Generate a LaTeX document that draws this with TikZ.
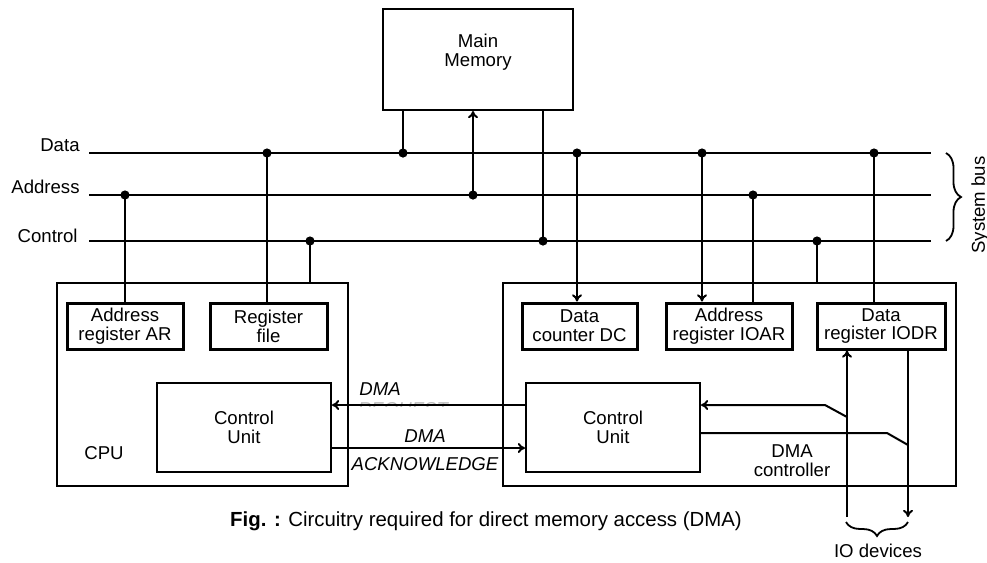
\documentclass[tikz,border=0pt]{standalone}
\usepackage{fontspec}
\setmainfont{Liberation Sans}
\usetikzlibrary{arrows.meta,decorations.pathreplacing}

\begin{document}
\begin{tikzpicture}[x=0.5pt,y=-0.5pt,
  font=\fontsize{9.3}{9.4}\selectfont,
  bus/.style={line width=1pt},
  wire/.style={line width=1pt},
  reg/.style={draw,line width=1.5pt,align=center,inner sep=0pt,minimum height=23pt},
  unit/.style={draw,line width=1pt,inner sep=0pt},
  outer/.style={draw,line width=1pt,inner sep=0pt,minimum height=101.5pt},
  jn/.style={circle,fill,inner sep=0pt,minimum size=4.6pt},
  tip/.style={-{To[length=3.6pt,width=5pt]}},
  lbl/.style={inner sep=0pt}
]
\useasboundingbox (0,0) rectangle (987,563);

% ---------- main memory ----------
\node[unit,minimum width=95pt,minimum height=50.5pt] (mem) at (478,59.5) {};
\node[lbl,align=center] (memtxt) at (478,52) {Main\\Memory};

% ---------- system bus ----------
\coordinate (dataL) at (89,153);  \coordinate (dataR) at (931,153);
\coordinate (addrL) at (89,195);  \coordinate (addrR) at (931,195);
\coordinate (ctrlL) at (89,241);  \coordinate (ctrlR) at (931,241);
\draw[bus] (dataL) -- (dataR);
\draw[bus] (addrL) -- (addrR);
\draw[bus] (ctrlL) -- (ctrlR);
\node[lbl,anchor=east] (ldata) at (80,145) {Data};
\node[lbl,anchor=east] (laddr) at (80,187) {Address};
\node[lbl,anchor=east] (lctrl) at (78,236) {Control};

\draw[line width=0.9pt,decorate,decoration={brace,amplitude=7.5pt}]
  (946,153) -- (946,241);
\node[lbl,rotate=90] (sysbus) at (980,205) {System bus};

% ---------- CPU ----------
\node[outer,minimum width=145.5pt] (cpu) at (202.5,384.5) {};
\node[reg,minimum width=58pt] (ar) at (125,326) {Address\\register AR};
\node[reg,minimum width=58.5pt] (rf) at (268.5,326) {Register\\file};
\node[unit,minimum width=87pt,minimum height=44.5pt,align=center] (ccu) at (244,427.5) {Control\\Unit};
\node[lbl] (cputxt) at (104,453) {CPU};

% ---------- DMA controller ----------
\node[outer,minimum width=226.5pt] (dma) at (729.5,384.5) {};
\node[reg,minimum width=57.5pt] (dc) at (579.5,326) {Data\\counter DC};
\node[reg,minimum width=63pt] (ioar) at (729,326) {Address\\register IOAR};
\node[reg,minimum width=64pt] (iodr) at (881,326) {Data\\register IODR};
\node[unit,minimum width=87pt,minimum height=44.5pt,align=center] (dcu) at (613,427.5) {Control\\Unit};
\node[lbl,align=center] (dmatxt) at (792,461) {DMA\\controller};

% ---------- bus taps ----------
\node[jn] (j1) at (403,153) {};
\node[jn] (j2) at (473,195) {};
\node[jn] (j3) at (543,241) {};
\node[jn] (j4) at (125,195) {};
\node[jn] (j5) at (267,153) {};
\node[jn] (j6) at (310,241) {};
\node[jn] (j7) at (577,153) {};
\node[jn] (j8) at (702,153) {};
\node[jn] (j9) at (753,195) {};
\node[jn] (j10) at (817,241) {};
\node[jn] (j11) at (874,153) {};

\draw[wire] (j1.center) -- (j1.center |- mem.south);
\draw[wire,tip] (j2.center) -- (j2.center |- mem.south);
\draw[wire] (j3.center) -- (j3.center |- mem.south);
\draw[wire] (j4.center) -- (j4.center |- ar.north);
\draw[wire] (j5.center) -- (j5.center |- rf.north);
\draw[wire] (j6.center) -- (j6.center |- cpu.north);
\draw[wire,tip] (j7.center) -- (j7.center |- dc.north);
\draw[wire,tip] (j8.center) -- (j8.center |- ioar.north);
\draw[wire] (j9.center) -- (j9.center |- ioar.north);
\draw[wire] (j10.center) -- (j10.center |- dma.north);
\draw[wire] (j11.center) -- (j11.center |- iodr.north);

% ---------- handshake lines ----------
\coordinate (yreq) at (0,405);
\coordinate (yack) at (0,448);
\begin{scope}
  \clip (340,400) rectangle (460,406);
  \node[lbl,anchor=base,gray!55,font=\fontsize{9.3}{9.4}\selectfont\itshape] (reqtxt) at (403,415) {REQUEST};
\end{scope}
\draw[wire,tip] (dcu.west |- yreq) -- (ccu.east |- yreq);
\draw[wire,tip] (ccu.east |- yack) -- (dcu.west |- yack);
\node[lbl,font=\fontsize{9.3}{9.4}\selectfont\itshape] (req) at (380,389) {DMA};
\node[lbl,font=\fontsize{9.3}{9.4}\selectfont\itshape] (ackd) at (425,436) {DMA};
\node[lbl,font=\fontsize{9.3}{9.4}\selectfont\itshape] (ack) at (425,464) {ACKNOWLEDGE};

% ---------- IO side ----------
\coordinate (ioL) at (847,517);
\coordinate (ioR) at (908,517);
\coordinate (kL) at (847,417);
\coordinate (bL) at (825,405);
\coordinate (bR) at (887,433);
\coordinate (kR) at (908,445);
\draw[wire,tip] (ioL) -- (ioL |- iodr.south);
\draw[wire,tip] (ioR |- iodr.south) -- (ioR);
\draw[wire,tip] (kL) -- (bL) -- (dcu.east |- bL);
\draw[wire] (dcu.east |- bR) -- (bR) -- (kR);

\draw[line width=0.9pt,decorate,decoration={brace,amplitude=7pt}]
  (908,522) -- (846,522);
\node[lbl] (iodev) at (878,551) {IO devices};

% ---------- caption ----------
\node[lbl,font=\fontsize{10.2}{10.4}\selectfont] (cap) at (486,521) {\textbf{Fig. :} Circuitry required for direct memory access (DMA)};
\end{tikzpicture}
\end{document}
